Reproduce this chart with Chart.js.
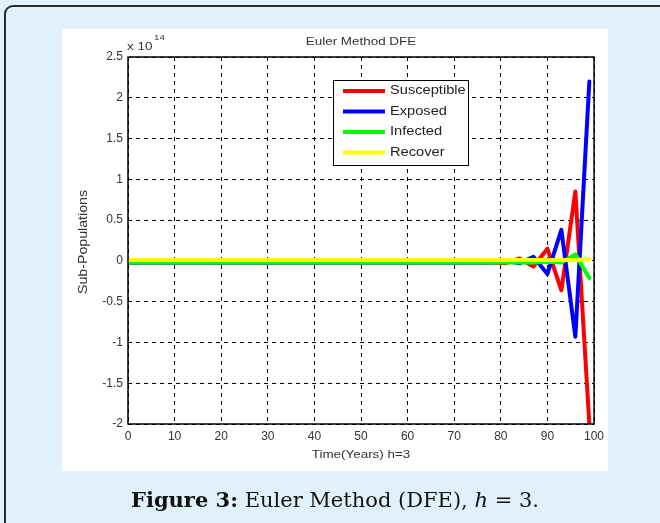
<!DOCTYPE html>
<html>
<head>
  <script src="https://cdn.jsdelivr.net/npm/chart.js"></script>
  <style>
    body { margin: 0px; background: #e0f1fb; }
    canvas { display: block; }
  </style>
</head>
<body>
  <canvas id="lineChart" width="660" height="523"></canvas>

  <script>
    // Time steps (h = 3)
    var time = [0, 3, 6, 9, 12, 15, 18, 21, 24, 27, 30, 33, 36, 39, 42, 45, 48, 51,
                54, 57, 60, 63, 66, 69, 72, 75, 78, 81, 84, 87, 90, 93, 96, 99];

    // Sub-populations, in units of 10^14
    var susceptible = [-0.02, -0.02, -0.02, -0.02, -0.02, -0.02, -0.02, -0.02, -0.02, -0.02,
                       -0.02, -0.02, -0.02, -0.02, -0.02, -0.02, -0.02, -0.02, -0.02, -0.02,
                       -0.02, -0.02, -0.02, -0.02, -0.02, -0.02, -0.02, -0.03, 0.03, -0.07,
                       0.15, -0.36, 0.85, -2.0];
    var exposed = [-0.02, -0.02, -0.02, -0.02, -0.02, -0.02, -0.02, -0.02, -0.02, -0.02,
                   -0.02, -0.02, -0.02, -0.02, -0.02, -0.02, -0.02, -0.02, -0.02, -0.02,
                   -0.02, -0.02, -0.02, -0.02, -0.02, -0.02, -0.02, 0.0, -0.03, 0.05,
                   -0.16, 0.38, -0.93, 2.2];
    var infected = [-0.02, -0.02, -0.02, -0.02, -0.02, -0.02, -0.02, -0.02, -0.02, -0.02,
                    -0.02, -0.02, -0.02, -0.02, -0.02, -0.02, -0.02, -0.02, -0.02, -0.02,
                    -0.02, -0.02, -0.02, -0.02, -0.02, -0.02, -0.02, -0.02, -0.02, -0.02,
                    -0.01, -0.02, 0.08, -0.21];
    var recover = [0.01, 0.01, 0.01, 0.01, 0.01, 0.01, 0.01, 0.01, 0.01, 0.01,
                   0.01, 0.01, 0.01, 0.01, 0.01, 0.01, 0.01, 0.01, 0.01, 0.01,
                   0.01, 0.01, 0.01, 0.01, 0.01, 0.01, 0.01, 0.01, 0.01, 0.01,
                   0.01, 0.01, 0.01, 0.02];

    var seriesNames = ['Susceptible', 'Exposed', 'Infected', 'Recover'];
    var seriesColors = ['#ff0000', '#0000ff', '#00ff00', '#ffff00'];

    var figureTitle = 'Euler Method DFE';
    var xTitle = 'Time(Years) h=3';
    var yTitle = 'Sub-Populations';

    function toPoints(values) {
      return values.map(function(v, i) { return { x: time[i], y: v }; });
    }

    var fontFamily = '"Liberation Sans", Arial, sans-serif';

    // the figure was scaled a little wider than tall, so stretch the texts
    function wideText(ctx, text, x, y, align) {
      var sx = 1.22;
      var w = ctx.measureText(text).width * sx;
      var left = align === 'center' ? x - w / 2 : (align === 'right' ? x - w : x);
      ctx.save();
      ctx.textAlign = 'left';
      ctx.translate(left, y);
      ctx.scale(sx, 1);
      ctx.fillText(text, 0, 0);
      ctx.restore();
    }

    // page frame, white figure panel and caption
    var framePlugin = {
      id: 'frame',
      beforeDraw: function(chart) {
        var ctx = chart.ctx;
        ctx.save();
        ctx.fillStyle = '#e0f1fb';
        ctx.fillRect(0, 0, 660, 523);
        // dark rounded border (top / left)
        ctx.strokeStyle = '#2b2b2b';
        ctx.lineWidth = 2;
        ctx.beginPath();
        ctx.moveTo(5, 530);
        ctx.lineTo(5, 14);
        ctx.arcTo(5, 6, 13, 6, 8);
        ctx.lineTo(670, 6);
        ctx.stroke();
        // white figure panel
        ctx.fillStyle = '#ffffff';
        ctx.fillRect(62, 29, 546, 442);
        ctx.restore();
      },
      afterDraw: function(chart) {
        var ctx = chart.ctx;
        var area = chart.chartArea;
        ctx.save();

        // box round the axes
        ctx.strokeStyle = '#000000';
        ctx.lineWidth = 1.5;
        ctx.strokeRect(area.left, area.top, area.right - area.left, area.bottom - area.top);

        // texts
        ctx.fillStyle = '#333333';
        ctx.font = '11px ' + fontFamily;
        ctx.textBaseline = 'middle';
        wideText(ctx, figureTitle, (area.left + area.right) / 2, 42, 'center');
        wideText(ctx, xTitle, (area.left + area.right) / 2, 455, 'center');
        ctx.save();
        ctx.font = '12px ' + fontFamily;
        ctx.translate(84, 242);
        ctx.rotate(-Math.PI / 2);
        ctx.scale(1.18, 1);
        ctx.textAlign = 'center';
        ctx.fillText(yTitle, 0, 0);
        ctx.restore();

        wideText(ctx, 'x 10', area.left - 1, 47, 'left');
        ctx.font = '8px ' + fontFamily;
        wideText(ctx, '14', area.left + 26, 38, 'left');

        // legend box
        var lx = 333, ly = 80, lw = 135, lh = 85;
        ctx.fillStyle = '#ffffff';
        ctx.fillRect(lx, ly, lw, lh);
        ctx.strokeStyle = '#000000';
        ctx.lineWidth = 1;
        ctx.strokeRect(lx + 0.5, ly + 0.5, lw, lh);
        ctx.font = '12px ' + fontFamily;
        ctx.textBaseline = 'middle';
        chart.data.datasets.forEach(function(ds, i) {
          var y = ly + 11 + i * 20.5;
          ctx.strokeStyle = ds.borderColor;
          ctx.lineWidth = 4;
          ctx.beginPath();
          ctx.moveTo(lx + 10, y);
          ctx.lineTo(lx + 52, y);
          ctx.stroke();
          ctx.fillStyle = '#222222';
          wideText(ctx, ds.label, lx + 57, y, 'left');
        });

        // caption
        var capY = 502;
        var boldPart = 'Figure 3:';
        var restA = ' Euler Method (DFE), ';
        var restH = 'h';
        var restB = ' = 3.';
        var fBold = 'bold 21px "DejaVu Serif", serif';
        var fNorm = '21px "DejaVu Serif", serif';
        var fIt = 'italic 21px "DejaVu Serif", serif';
        ctx.font = fBold; var w1 = ctx.measureText(boldPart).width;
        ctx.font = fNorm; var w2 = ctx.measureText(restA).width;
        ctx.font = fIt; var w3 = ctx.measureText(restH).width;
        ctx.font = fNorm; var w4 = ctx.measureText(restB).width;
        var x0 = 335 - (w1 + w2 + w3 + w4) / 2;
        ctx.fillStyle = '#111111';
        ctx.textAlign = 'left';
        ctx.textBaseline = 'middle';
        ctx.font = fBold; ctx.fillText(boldPart, x0, capY);
        ctx.font = fNorm; ctx.fillText(restA, x0 + w1, capY);
        ctx.font = fIt; ctx.fillText(restH, x0 + w1 + w2, capY);
        ctx.font = fNorm; ctx.fillText(restB, x0 + w1 + w2 + w3, capY);

        ctx.restore();
      }
    };

    var datasets = [susceptible, exposed, infected, recover].map(function(values, i) {
      return {
        label: seriesNames[i],
        data: toPoints(values),
        borderColor: seriesColors[i],
        backgroundColor: seriesColors[i],
        borderWidth: 4,
        borderJoinStyle: 'round',
        borderCapStyle: 'round',
        pointRadius: 0,
        tension: 0,
        fill: false,
        order: 3 - i
      };
    });

    var config = {
      type: 'line',
      data: { datasets: datasets },
      options: {
        responsive: false,
        animation: false,
        layout: { padding: { left: 0, right: 66, top: 57, bottom: 0 } },
        plugins: {
          legend: { display: false },
          tooltip: { enabled: false },
          title: { display: false }
        },
        scales: {
          x: {
            type: 'linear',
            min: 0,
            max: 100,
            afterFit: function(scale) { scale.height = 99; },
            ticks: {
              stepSize: 10,
              padding: 5,
              color: '#333333',
              font: { family: fontFamily, size: 12 }
            },
            grid: {
              color: '#000000',
              lineWidth: 1,
              drawTicks: false
            },
            border: { display: false, dash: [4, 4] }
          },
          y: {
            type: 'linear',
            min: -2,
            max: 2.5,
            afterFit: function(scale) { scale.width = 128; },
            ticks: {
              stepSize: 0.5,
              padding: 5,
              color: '#333333',
              font: { family: fontFamily, size: 12 },
              callback: function(v) { return String(v); }
            },
            grid: {
              color: '#000000',
              lineWidth: 1,
              drawTicks: false
            },
            border: { display: false, dash: [4, 4] }
          }
        }
      },
      plugins: [framePlugin]
    };

    var ctx = document.getElementById('lineChart').getContext('2d');
    new Chart(ctx, config);
  </script>
</body>
</html>
